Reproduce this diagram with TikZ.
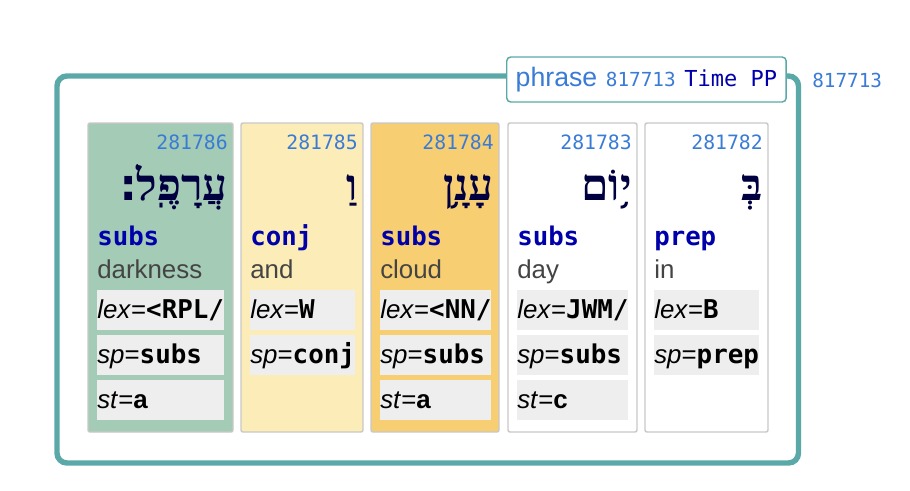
\documentclass[tikz,border=0pt]{standalone}
\usepackage{fontspec}
\setmainfont{Liberation Sans}
\setmonofont{DejaVu Sans Mono}
\newfontfamily\hebfont[Script=Hebrew]{Liberation Serif}
\newfontfamily\sofpasuq{DejaVu Sans}
\TeXXeTstate=1
\definecolor{frameteal}{HTML}{5AA9A8}
\definecolor{numblue}{HTML}{3A7BD5}
\definecolor{posblue}{HTML}{0000AA}
\definecolor{hebnavy}{HTML}{000040}
\definecolor{glossgray}{HTML}{444444}
\definecolor{featgray}{HTML}{EEEEEE}
\definecolor{cardgray}{HTML}{C8C8C8}
\definecolor{cardgreen}{HTML}{A3CBB6}
\definecolor{cardyellow}{HTML}{FCECB8}
\definecolor{cardorange}{HTML}{F8CE72}
\newcommand{\fval}[1]{\texttt{\bfseries #1}}
\begin{document}
\begin{tikzpicture}[x=0.75pt, y=-0.75pt,
    card/.style={draw=cardgray, line width=1.1pt, rounded corners=1.5pt},
    featbox/.style={fill=featgray},
    num/.style={anchor=base east, inner sep=0, text=numblue, font=\ttfamily\fontsize{14.8}{15}\selectfont},
    heb/.style={anchor=base east, inner sep=0, text=hebnavy, font=\hebfont\bfseries\fontsize{33}{33}\selectfont},
    postag/.style={anchor=base west, inner sep=0, text=posblue, font=\ttfamily\bfseries\fontsize{19.3}{20}\selectfont},
    gloss/.style={anchor=base west, inner sep=0, text=glossgray, font=\fontsize{19.4}{20}\selectfont},
    feat/.style={anchor=base west, inner sep=0, font=\fontsize{19.4}{20}\selectfont}]
  \useasboundingbox (0,0) rectangle (910,490);
  % phrase frame
  \draw[frameteal, line width=4.1pt, rounded corners=7.5pt] (57,76) rectangle (798.5,463);
  \node[draw=frameteal, fill=white, line width=1.1pt, rounded corners=3pt, anchor=west,
        minimum height=33.75pt, inner xsep=6.75pt] (phrlabel) at (506,79.5)
    {\textcolor{numblue}{\fontsize{20}{20}\selectfont phrase}\hspace{6.5pt}\textcolor{numblue}{\ttfamily\fontsize{14.5}{15}\selectfont 817713}\hspace{6.5pt}\textcolor{posblue}{\ttfamily\fontsize{16.5}{17}\selectfont Time PP}};
  \node[anchor=base west, inner sep=0, text=numblue, font=\ttfamily\fontsize{14.5}{15}\selectfont] (phrnum) at (812,87) {817713};
  % first card
  \draw[card, fill=cardgreen] (88,123) rectangle (233,432);
  \node[num] (num1) at (228,149) {281786};
  \node[heb] (heb1) at (228,200) {\beginR עֲרָפֶֽל{\sofpasuq\bfseries ׃}\endR};
  \node[postag] (pos1) at (97,245) {subs};
  \node[gloss] (gloss1) at (97,278) {darkness};
  \fill[featbox] (97,290) rectangle (224,330);
  \fill[featbox] (97,335) rectangle (224,375);
  \fill[featbox] (97,380) rectangle (224,420);
  \node[feat] (lex1) at (97,318) {\textit{lex}=\fval{<RPL/}};
  \node[feat] (sp1) at (97,363) {\textit{sp}=\fval{subs}};
  \node[feat] (st1) at (97,408) {\textit{st}=\textbf{a}};
  % second card
  \draw[card, fill=cardyellow] (241,123) rectangle (363,432);
  \node[num] (num2) at (358,149) {281785};
  \node[heb] (heb2) at (358,200) {\beginR וַ\endR};
  \node[postag] (pos2) at (250,245) {conj};
  \node[gloss] (gloss2) at (250,278) {and};
  \fill[featbox] (250,290) rectangle (355,330);
  \fill[featbox] (250,335) rectangle (355,375);
  \node[feat] (lex2) at (250,318) {\textit{lex}=\fval{W}};
  \node[feat] (sp2) at (250,363) {\textit{sp}=\fval{conj}};
  % third card
  \draw[card, fill=cardorange] (371,123) rectangle (499,432);
  \node[num] (num3) at (494,149) {281784};
  \node[heb] (heb3) at (494,200) {\beginR עָנָ֥ן\endR};
  \node[postag] (pos3) at (380,245) {subs};
  \node[gloss] (gloss3) at (380,278) {cloud};
  \fill[featbox] (380,290) rectangle (491,330);
  \fill[featbox] (380,335) rectangle (491,375);
  \fill[featbox] (380,380) rectangle (491,420);
  \node[feat] (lex3) at (380,318) {\textit{lex}=\fval{<NN/}};
  \node[feat] (sp3) at (380,363) {\textit{sp}=\fval{subs}};
  \node[feat] (st3) at (380,408) {\textit{st}=\textbf{a}};
  % fourth card
  \draw[card, fill=white] (508,123) rectangle (637,432);
  \node[num] (num4) at (632,149) {281783};
  \node[heb] (heb4) at (632,200) {\beginR י֥וֹם\endR};
  \node[postag] (pos4) at (517,245) {subs};
  \node[gloss] (gloss4) at (517,278) {day};
  \fill[featbox] (517,290) rectangle (628,330);
  \fill[featbox] (517,335) rectangle (628,375);
  \fill[featbox] (517,380) rectangle (628,420);
  \node[feat] (lex4) at (517,318) {\textit{lex}=\fval{JWM/}};
  \node[feat] (sp4) at (517,363) {\textit{sp}=\fval{subs}};
  \node[feat] (st4) at (517,408) {\textit{st}=\textbf{c}};
  % fifth card
  \draw[card, fill=white] (645,123) rectangle (768,432);
  \node[num] (num5) at (763,149) {281782};
  \node[heb] (heb5) at (763,200) {\beginR בְּ\endR};
  \node[postag] (pos5) at (654,245) {prep};
  \node[gloss] (gloss5) at (654,278) {in};
  \fill[featbox] (654,290) rectangle (759,330);
  \fill[featbox] (654,335) rectangle (759,375);
  \node[feat] (lex5) at (654,318) {\textit{lex}=\fval{B}};
  \node[feat] (sp5) at (654,363) {\textit{sp}=\fval{prep}};
\end{tikzpicture}
\end{document}
